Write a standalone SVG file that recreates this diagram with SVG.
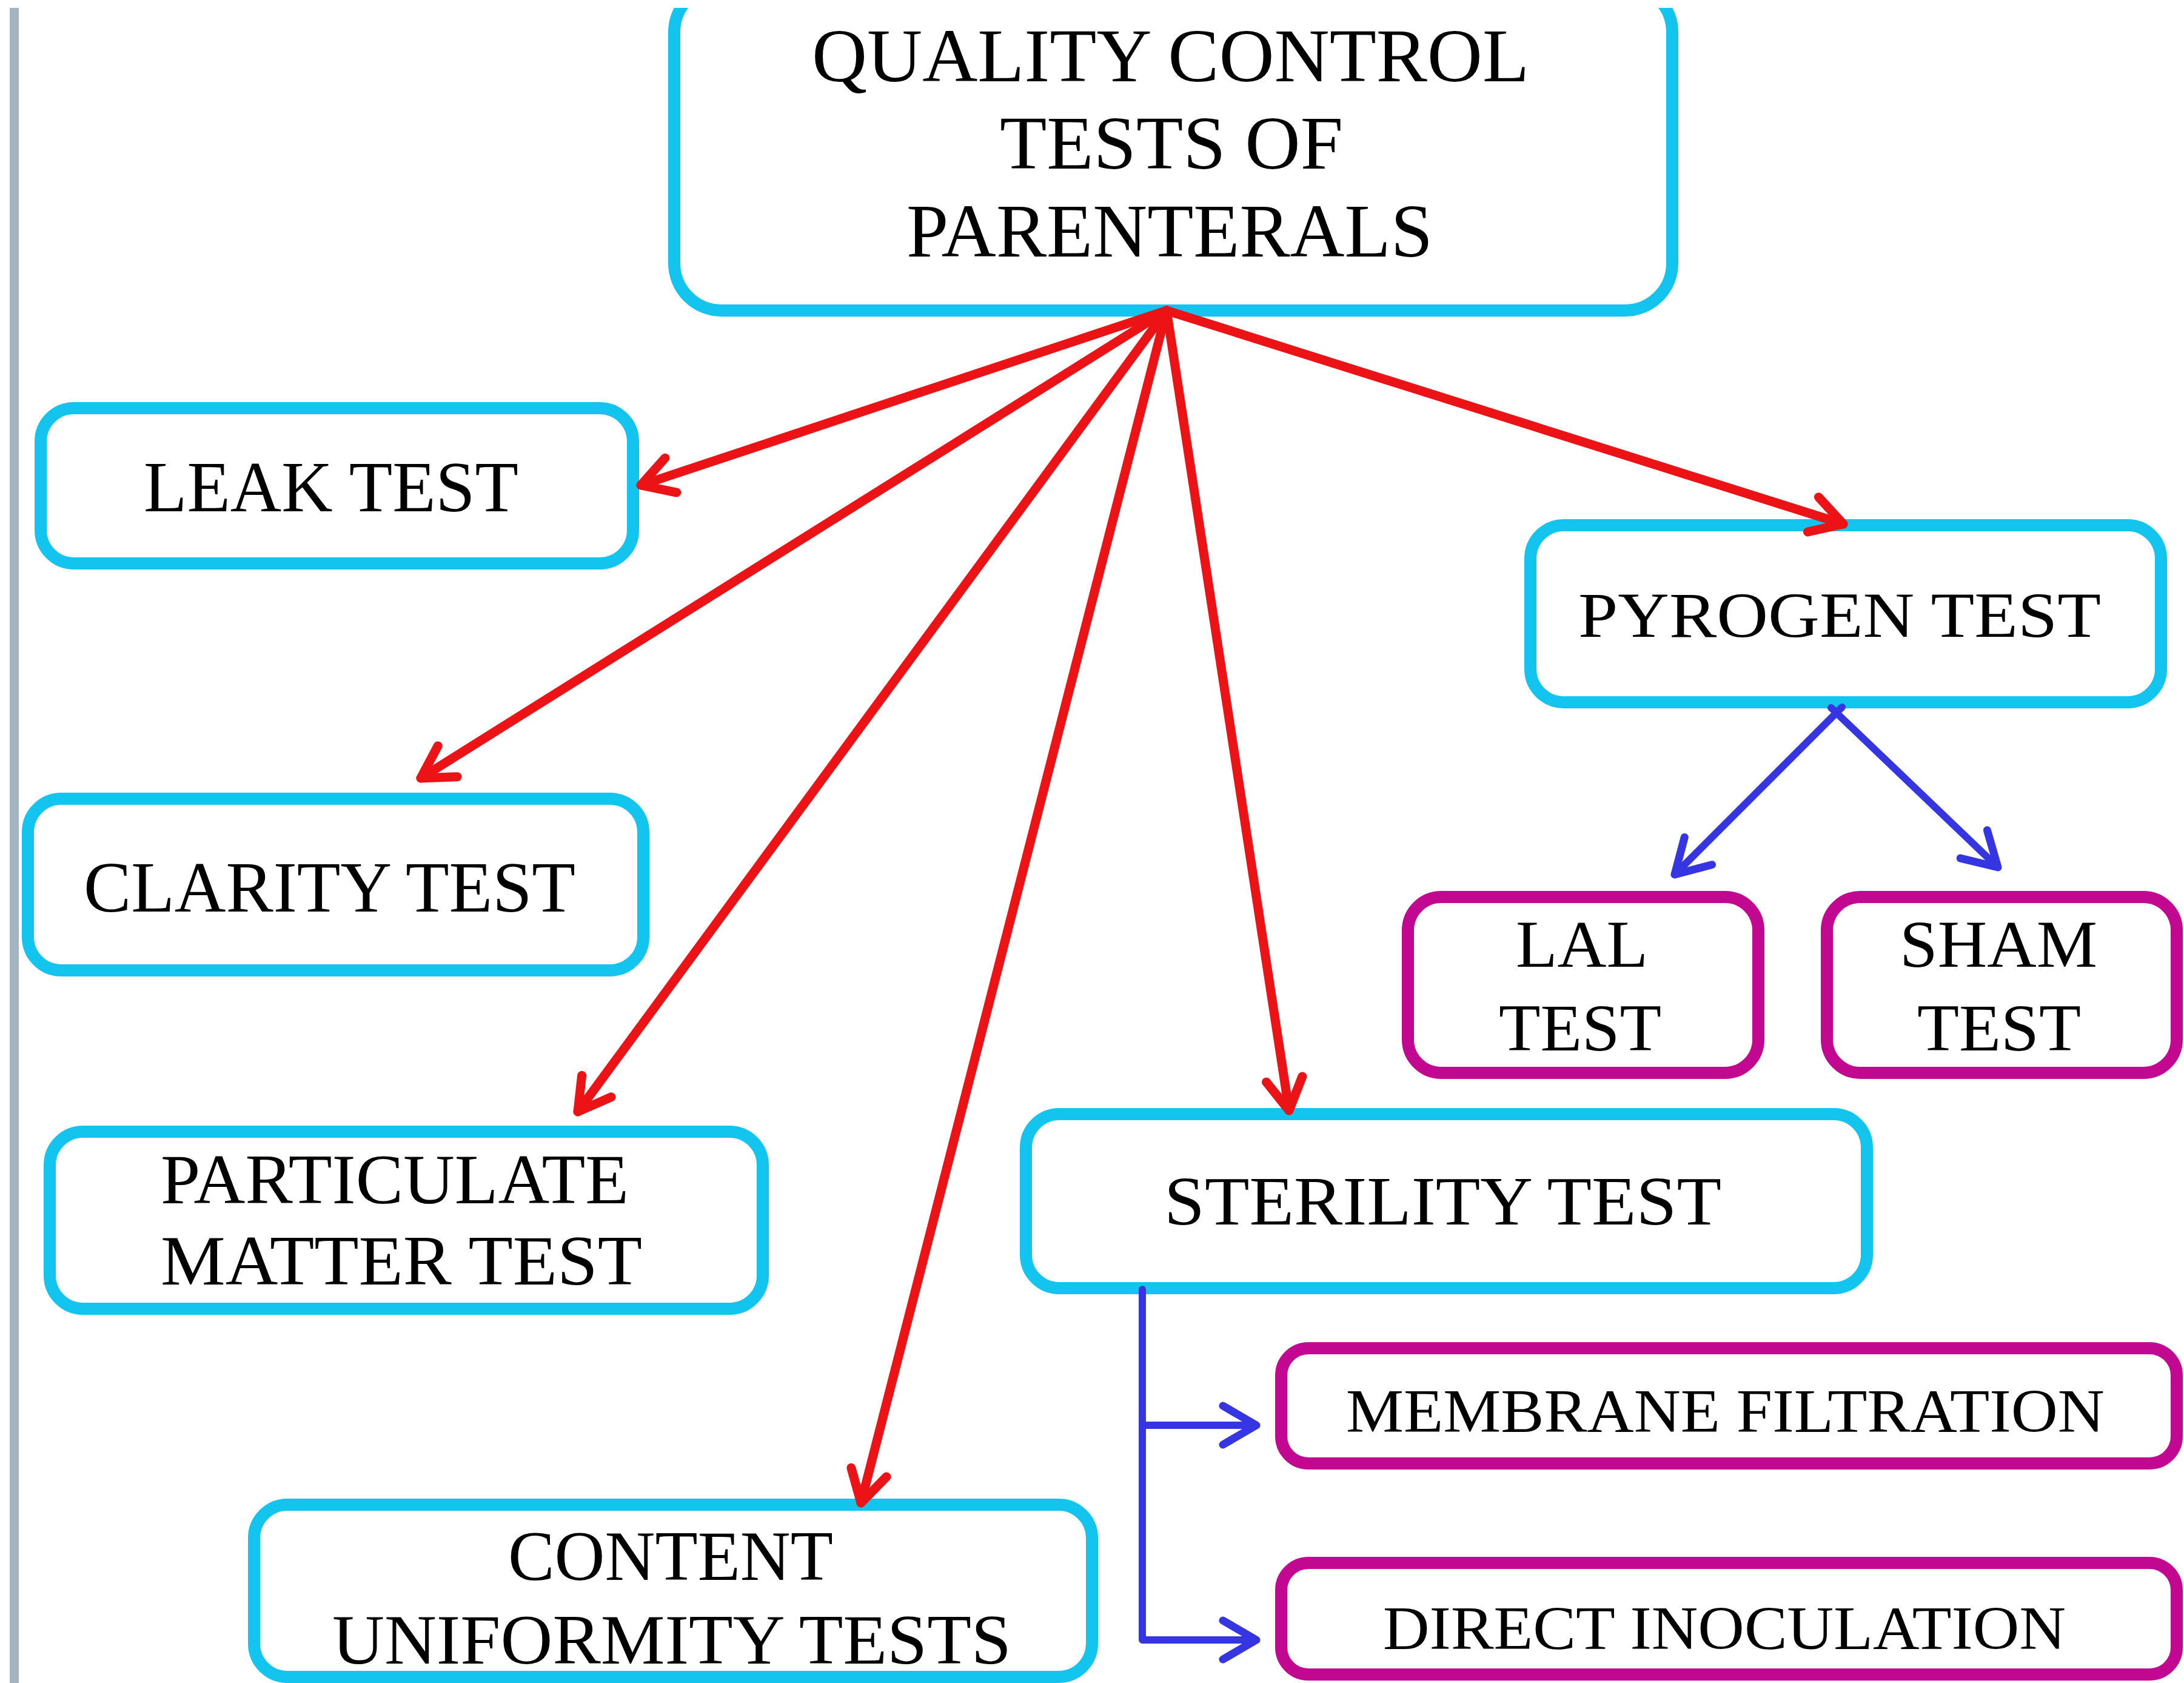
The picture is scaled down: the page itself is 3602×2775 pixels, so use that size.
<svg xmlns="http://www.w3.org/2000/svg" width="3602" height="2775" viewBox="0 0 3602 2775">
  <style>
    .box { fill: #ffffff; stroke-width: 20; }
    .main { stroke: #12c4ee; }
    .sub { stroke: #c20890; }
    .lbl { font-family: "Liberation Serif", "Times New Roman", serif; fill: #000000; }
    .red { stroke: #ec1317; stroke-width: 15; fill: none; stroke-linecap: round; }
    .blue { stroke: #3535e2; stroke-width: 12; fill: none; stroke-linecap: round; stroke-linejoin: round; }
  </style>
  <defs>
    <marker id="headRed" markerUnits="userSpaceOnUse" markerWidth="10" markerHeight="10" refX="0" refY="0" orient="auto" overflow="visible">
      <path d="M-52,-30 L0,0 L-52,30" fill="none" stroke="#ec1317" stroke-width="15" stroke-linecap="round" stroke-linejoin="round"/>
    </marker>
    <marker id="headBlue" markerUnits="userSpaceOnUse" markerWidth="10" markerHeight="10" refX="0" refY="0" orient="auto" overflow="visible">
      <path d="M-55,-32 L0,0 L-55,32" fill="none" stroke="#3535e2" stroke-width="13" stroke-linecap="round" stroke-linejoin="round"/>
    </marker>
  </defs>

  <rect x="0" y="0" width="3602" height="2775" fill="#ffffff"/>
  <!-- page edge strip on the left -->
  <rect x="16" y="13" width="15" height="2762" fill="#a4b4c0"/>

  <g id="node-root">
    <rect class="box main" x="1112" y="-25" width="1646" height="537" rx="78"/>
    <text class="lbl" x="1339" y="134" font-size="124" textLength="1183" lengthAdjust="spacingAndGlyphs">QUALITY CONTROL</text>
    <text class="lbl" x="1649" y="278" font-size="124" textLength="566" lengthAdjust="spacingAndGlyphs">TESTS OF</text>
    <text class="lbl" x="1495" y="423" font-size="124" textLength="868" lengthAdjust="spacingAndGlyphs">PARENTERALS</text>
  </g>

  <g id="node-leak">
    <rect class="box main" x="67" y="673" width="977" height="256" rx="55"/>
    <text class="lbl" x="237" y="843" font-size="118" textLength="618" lengthAdjust="spacingAndGlyphs">LEAK TEST</text>
  </g>

  <g id="node-clarity">
    <rect class="box main" x="46" y="1317" width="1015" height="283" rx="55"/>
    <text class="lbl" x="138" y="1503" font-size="118" textLength="811" lengthAdjust="spacingAndGlyphs">CLARITY TEST</text>
  </g>

  <g id="node-particulate">
    <rect class="box main" x="82" y="1866" width="1176" height="292" rx="55"/>
    <text class="lbl" x="265" y="1984" font-size="116" textLength="772" lengthAdjust="spacingAndGlyphs">PARTICULATE</text>
    <text class="lbl" x="265" y="2118" font-size="116" textLength="794" lengthAdjust="spacingAndGlyphs">MATTER TEST</text>
  </g>

  <g id="node-content">
    <rect class="box main" x="419" y="2481" width="1382" height="284" rx="55"/>
    <text class="lbl" x="838" y="2605" font-size="116" textLength="536" lengthAdjust="spacingAndGlyphs">CONTENT</text>
    <text class="lbl" x="548" y="2743" font-size="116" textLength="1120" lengthAdjust="spacingAndGlyphs">UNIFORMITY TESTS</text>
  </g>

  <g id="node-sterility">
    <rect class="box main" x="1692" y="1837" width="1387" height="287" rx="55"/>
    <text class="lbl" x="1920" y="2019" font-size="114" textLength="919" lengthAdjust="spacingAndGlyphs">STERILITY TEST</text>
  </g>

  <g id="node-pyrogen">
    <rect class="box main" x="2524" y="866" width="1040" height="292" rx="55"/>
    <text class="lbl" x="2603" y="1050" font-size="106" textLength="862" lengthAdjust="spacingAndGlyphs">PYROGEN TEST</text>
  </g>

  <g id="node-lal">
    <rect class="box sub" x="2322" y="1479" width="578" height="290" rx="55"/>
    <text class="lbl" x="2500" y="1594" font-size="110" textLength="218" lengthAdjust="spacingAndGlyphs">LAL</text>
    <text class="lbl" x="2472" y="1732" font-size="110" textLength="268" lengthAdjust="spacingAndGlyphs">TEST</text>
  </g>

  <g id="node-sham">
    <rect class="box sub" x="3013" y="1479" width="577" height="290" rx="55"/>
    <text class="lbl" x="3133" y="1594" font-size="110" textLength="326" lengthAdjust="spacingAndGlyphs">SHAM</text>
    <text class="lbl" x="3162" y="1732" font-size="110" textLength="270" lengthAdjust="spacingAndGlyphs">TEST</text>
  </g>

  <g id="node-membrane">
    <rect class="box sub" x="2113" y="2223" width="1477" height="190" rx="45"/>
    <text class="lbl" x="2220" y="2361" font-size="102" textLength="1251" lengthAdjust="spacingAndGlyphs">MEMBRANE FILTRATION</text>
  </g>

  <g id="node-direct">
    <rect class="box sub" x="2113" y="2577" width="1477" height="184" rx="45"/>
    <text class="lbl" x="2281" y="2719" font-size="102" textLength="1126" lengthAdjust="spacingAndGlyphs">DIRECT INOCULATION</text>
  </g>

  <g id="connectors">
    <line class="red" x1="1924" y1="512" x2="1057" y2="800" marker-end="url(#headRed)"/>
    <line class="red" x1="1924" y1="512" x2="694" y2="1283" marker-end="url(#headRed)"/>
    <line class="red" x1="1924" y1="512" x2="953" y2="1833" marker-end="url(#headRed)"/>
    <line class="red" x1="1924" y1="512" x2="1420" y2="2478" marker-end="url(#headRed)"/>
    <line class="red" x1="1924" y1="512" x2="2126" y2="1831" marker-end="url(#headRed)"/>
    <line class="red" x1="1924" y1="512" x2="3040" y2="864" marker-end="url(#headRed)"/>

    <line class="blue" x1="3038" y1="1166" x2="2762" y2="1442" marker-end="url(#headBlue)"/>
    <line class="blue" x1="3020" y1="1167" x2="3295" y2="1430" marker-end="url(#headBlue)"/>

    <path class="blue" d="M1884,2126 V2704 H2072" marker-end="url(#headBlue)"/>
    <line class="blue" x1="1884" y1="2350" x2="2072" y2="2350" marker-end="url(#headBlue)"/>
  </g>

  <!-- blank margin along the top edge -->
  <rect x="0" y="0" width="3602" height="13" fill="#ffffff"/>
</svg>
